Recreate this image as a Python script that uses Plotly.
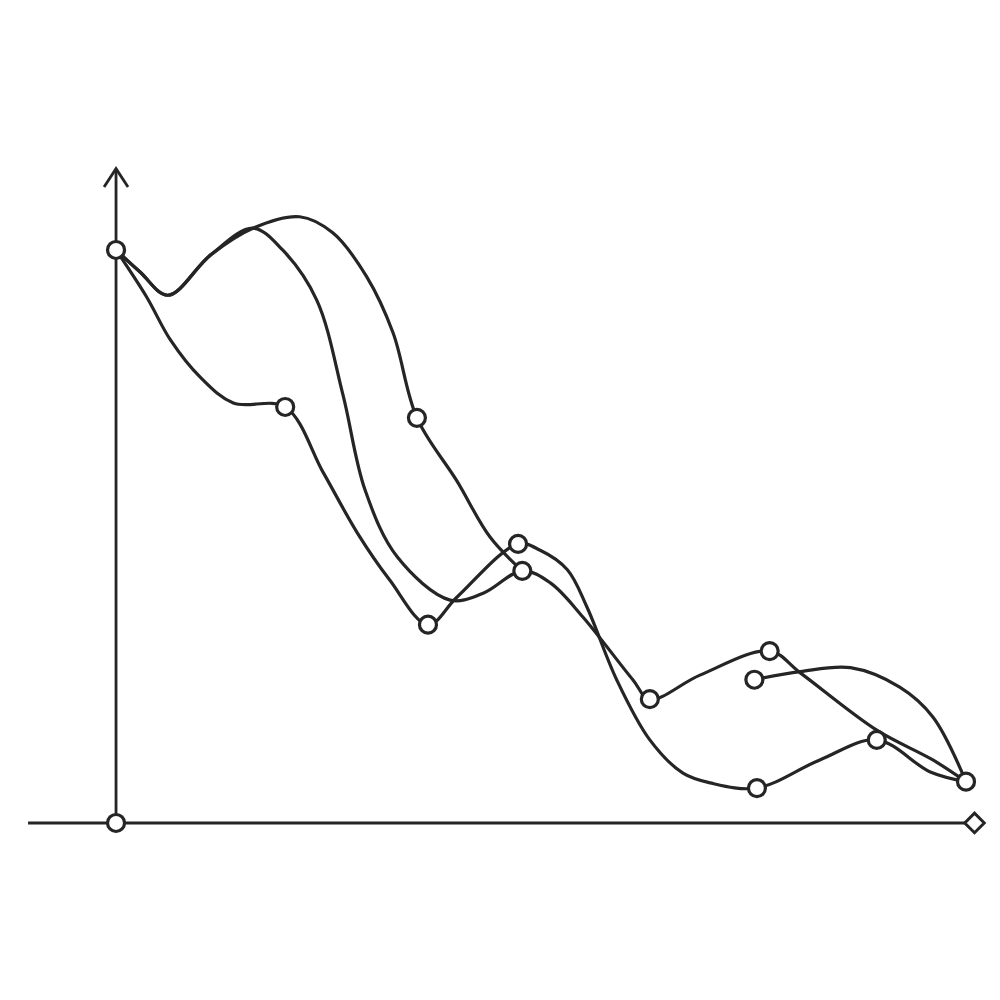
import plotly.graph_objects as go

# ---- data (chart units: x 0..10, y 0..~11) ----
a_x = [0, 0.28, 0.61, 1.11, 1.61, 2.16, 2.55, 2.95, 3.26, 3.54, 4.01, 4.40, 4.78]
a_y = [10.0, 9.62, 9.21, 9.91, 10.38, 10.58, 10.30, 9.53, 8.55, 7.07, 5.97, 4.99, 4.40]

b_x = [0, 0.28, 0.61, 1.11, 1.61, 1.96, 2.36, 2.67, 2.93, 3.31, 3.93, 4.32, 4.78,
       5.11, 5.49, 6.08, 6.28, 6.87, 7.69, 8.05, 8.95, 9.61, 10.0]
b_y = [10.0, 9.62, 9.21, 9.91, 10.38, 10.00, 9.13, 7.47, 5.81, 4.64, 3.89, 4.01, 4.40,
       4.19, 3.60, 2.50, 2.16, 2.58, 3.00, 2.62, 1.62, 1.10, 0.72]

c_x = [0, 0.36, 0.64, 0.99, 1.38, 1.99, 2.44, 2.84, 3.22, 3.67, 4.01, 4.73, 4.99,
       5.31, 5.54, 5.89, 6.28, 6.67, 6.99, 7.54, 8.28, 8.95, 9.58, 10.0]
c_y = [10.0, 9.18, 8.43, 7.78, 7.33, 7.26, 6.11, 5.06, 4.24, 3.46, 3.94, 4.87, 4.76,
       4.42, 3.77, 2.50, 1.45, 0.87, 0.70, 0.61, 1.10, 1.45, 0.89, 0.72]

d_x = [7.51, 8.05, 8.64, 9.22, 9.61, 10.0]
d_y = [2.50, 2.64, 2.71, 2.37, 1.85, 0.72]

marker_x = [0, 1.99, 3.54, 3.67, 4.73, 4.78, 6.28, 7.69, 7.51, 7.54, 8.95, 10.0, 0]
marker_y = [10.0, 7.26, 7.07, 3.46, 4.87, 4.40, 2.16, 3.00, 2.50, 0.61, 1.45, 0.72, 0]

INK = "#252525"
LW = 3.2

fig = go.Figure()

# axes
fig.add_trace(go.Scatter(x=[-1.035, 9.99], y=[0, 0], mode="lines",
                         line=dict(color=INK, width=2.8), hoverinfo="skip"))
fig.add_trace(go.Scatter(x=[0, 0], y=[0, 11.40], mode="lines",
                         line=dict(color=INK, width=2.8), hoverinfo="skip"))
fig.add_trace(go.Scatter(x=[-0.141, 0, 0.141], y=[11.10, 11.42, 11.10], mode="lines",
                         line=dict(color=INK, width=2.8), hoverinfo="skip"))
fig.add_trace(go.Scatter(x=[10.1], y=[0], mode="markers",
                         marker=dict(symbol="diamond", size=15, color="white",
                                     line=dict(color=INK, width=3.0)), hoverinfo="skip"))

# curves
for xs, ys in [(a_x, a_y), (b_x, b_y), (c_x, c_y), (d_x, d_y)]:
    fig.add_trace(go.Scatter(x=xs, y=ys, mode="lines",
                             line=dict(color=INK, width=LW, shape="spline", smoothing=1.0),
                             hoverinfo="skip"))

# markers
fig.add_trace(go.Scatter(x=marker_x, y=marker_y, mode="markers",
                         marker=dict(symbol="circle", size=17, color="white",
                                     line=dict(color=INK, width=3.2)), hoverinfo="skip"))

fig.update_layout(
    width=1000, height=1000,
    margin=dict(l=0, r=0, t=0, b=0),
    paper_bgcolor="white", plot_bgcolor="white",
    showlegend=False,
    xaxis=dict(range=[-1.271, 10.494], visible=False, fixedrange=True),
    yaxis=dict(range=[-3.229, 14.223], visible=False, fixedrange=True),
)

fig.write_html("out.html")
